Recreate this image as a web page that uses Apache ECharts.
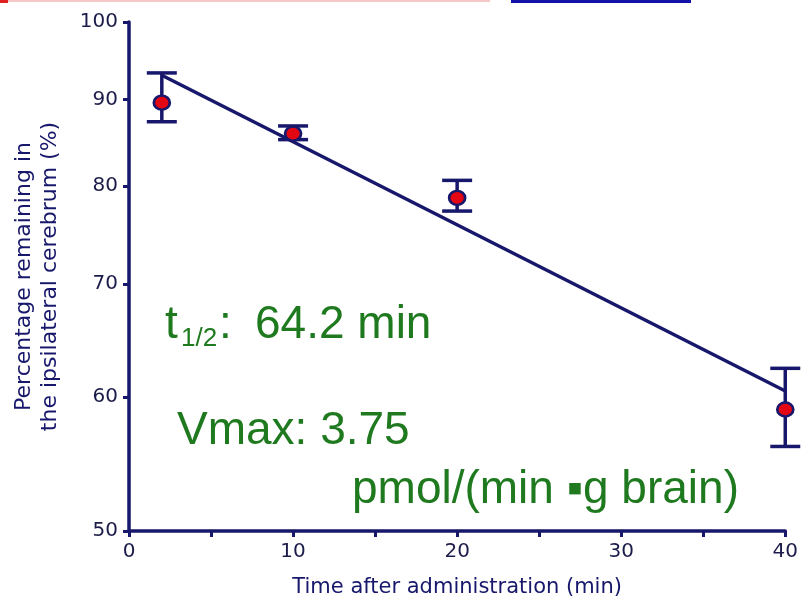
<!DOCTYPE html>
<html>
<head>
<meta charset="utf-8">
<script src="https://cdn.jsdelivr.net/npm/echarts@6/dist/echarts.min.js"></script>
<style>
  html, body { margin: 0; padding: 0; background: #ffffff; }
  #chart { width: 801px; height: 603px; }
</style>
</head>
<body>
<div id="chart"></div>
<script>
// Measured brain retention after administration (mean with error range)
const timeMin = [2, 10, 20, 40];
const meanPct = [89.6, 85.9, 78.7, 59.0];
const lowPct = [87.3, 85.2, 77.3, 56.1];
const highPct = [93.3, 86.8, 80.6, 62.4];

// Mono-exponential fit (straight on the log axis), end points
const fitTime = [2, 40];
const fitPct = [93.0, 60.5];

// Axis tick values
const yTickValues = [50, 60, 70, 80, 90, 100];
const xTickValues = [0, 10, 20, 30, 40];

const NAVY = '#17176b';
const GREEN = '#1f7a1f';

const points = timeMin.map((t, i) => [t, meanPct[i]]);
const errorRanges = timeMin.map((t, i) => [t, lowPct[i], highPct[i]]);
const fitLine = fitTime.map((t, i) => [t, fitPct[i]]);

const chart = echarts.init(document.getElementById('chart'), null, { renderer: 'canvas' });

chart.setOption({
  animation: false,
  backgroundColor: '#ffffff',
  grid: { left: 129, right: 12, top: 22, bottom: 70, containLabel: false },
  xAxis: {
    type: 'value',
    min: xTickValues[0],
    max: xTickValues[xTickValues.length - 1],
    interval: 10,
    name: 'Time after administration (min)',
    nameLocation: 'middle',
    nameGap: 46,
    nameTextStyle: { fontFamily: 'DejaVu Sans', fontSize: 21, color: NAVY },
    axisLine: { onZero: false, lineStyle: { color: NAVY, width: 3.5 } },
    axisTick: { show: true, inside: false, length: 6, lineStyle: { color: NAVY, width: 3 } },
    minorTick: { show: true, splitNumber: 2, length: 6, lineStyle: { color: NAVY, width: 3 } },
    axisLabel: { margin: 11, fontFamily: 'DejaVu Sans', fontSize: 20, color: '#1c1c4a' },
    splitLine: { show: false },
    minorSplitLine: { show: false }
  },
  yAxis: {
    type: 'log',
    logBase: 10,
    min: yTickValues[0],
    max: yTickValues[yTickValues.length - 1],
    name: 'Percentage remaining in\nthe ipsilateral cerebrum (%)',
    nameLocation: 'middle',
    nameGap: 66,
    nameRotate: 90,
    nameTextStyle: { fontFamily: 'DejaVu Sans', fontSize: 22, lineHeight: 26, color: NAVY },
    axisLine: { show: true, lineStyle: { color: NAVY, width: 3.5 } },
    axisTick: { show: true, inside: false, length: 6, customValues: yTickValues, lineStyle: { color: NAVY, width: 3 } },
    axisLabel: { margin: 11, customValues: yTickValues, fontFamily: 'DejaVu Sans', fontSize: 20, color: '#1c1c4a' },
    splitLine: { show: false },
    minorTick: { show: false }
  },
  series: [
    {
      type: 'line',
      data: fitLine,
      symbol: 'none',
      lineStyle: { color: NAVY, width: 3.5 },
      z: 2
    },
    {
      type: 'custom',
      data: errorRanges,
      encode: { x: 0, y: [1, 2] },
      clip: false,
      z: 3,
      renderItem: function (params, api) {
        const x = api.value(0);
        const lo = api.coord([x, api.value(1)]);
        const hi = api.coord([x, api.value(2)]);
        const half = 15;
        const style = { stroke: NAVY, lineWidth: 3.5 };
        return {
          type: 'group',
          children: [
            { type: 'line', shape: { x1: lo[0], y1: lo[1], x2: hi[0], y2: hi[1] }, style: style },
            { type: 'line', shape: { x1: lo[0] - half, y1: lo[1], x2: lo[0] + half, y2: lo[1] }, style: style },
            { type: 'line', shape: { x1: hi[0] - half, y1: hi[1], x2: hi[0] + half, y2: hi[1] }, style: style }
          ]
        };
      }
    },
    {
      type: 'scatter',
      data: points,
      symbol: 'circle',
      symbolSize: [16, 14],
      clip: false,
      itemStyle: { color: '#e30613', borderColor: NAVY, borderWidth: 2.5, opacity: 1 },
      z: 4
    }
  ],
  graphic: [
    // slide trim along the top edge
    { type: 'rect', shape: { x: 0, y: 0, width: 490, height: 2 }, style: { fill: '#f6c8c8' }, silent: true },
    { type: 'rect', shape: { x: 0, y: 0, width: 8, height: 3 }, style: { fill: '#e02020' }, silent: true },
    { type: 'rect', shape: { x: 511, y: 0, width: 180, height: 3 }, style: { fill: '#1212a8' }, silent: true },
    // kinetic parameters
    { type: 'text', left: 165, top: 302, style: { text: 't', font: '46px "Liberation Sans"', fill: GREEN } },
    { type: 'text', left: 181, top: 326, style: { text: '1/2', font: '26px "Liberation Sans"', fill: GREEN } },
    { type: 'text', left: 219, top: 302, style: { text: ':', font: '46px "Liberation Sans"', fill: GREEN } },
    { type: 'text', left: 255, top: 302, style: { text: '64.2 min', font: '46px "Liberation Sans"', fill: GREEN } },
    { type: 'text', left: 177, top: 408, style: { text: 'Vmax: 3.75', font: '46px "Liberation Sans"', fill: GREEN } },
    { type: 'text', left: 352, top: 467, style: { text: 'pmol/(min \u25AAg brain)', font: '46px "Liberation Sans"', fill: GREEN } }
  ]
});
</script>
</body>
</html>
